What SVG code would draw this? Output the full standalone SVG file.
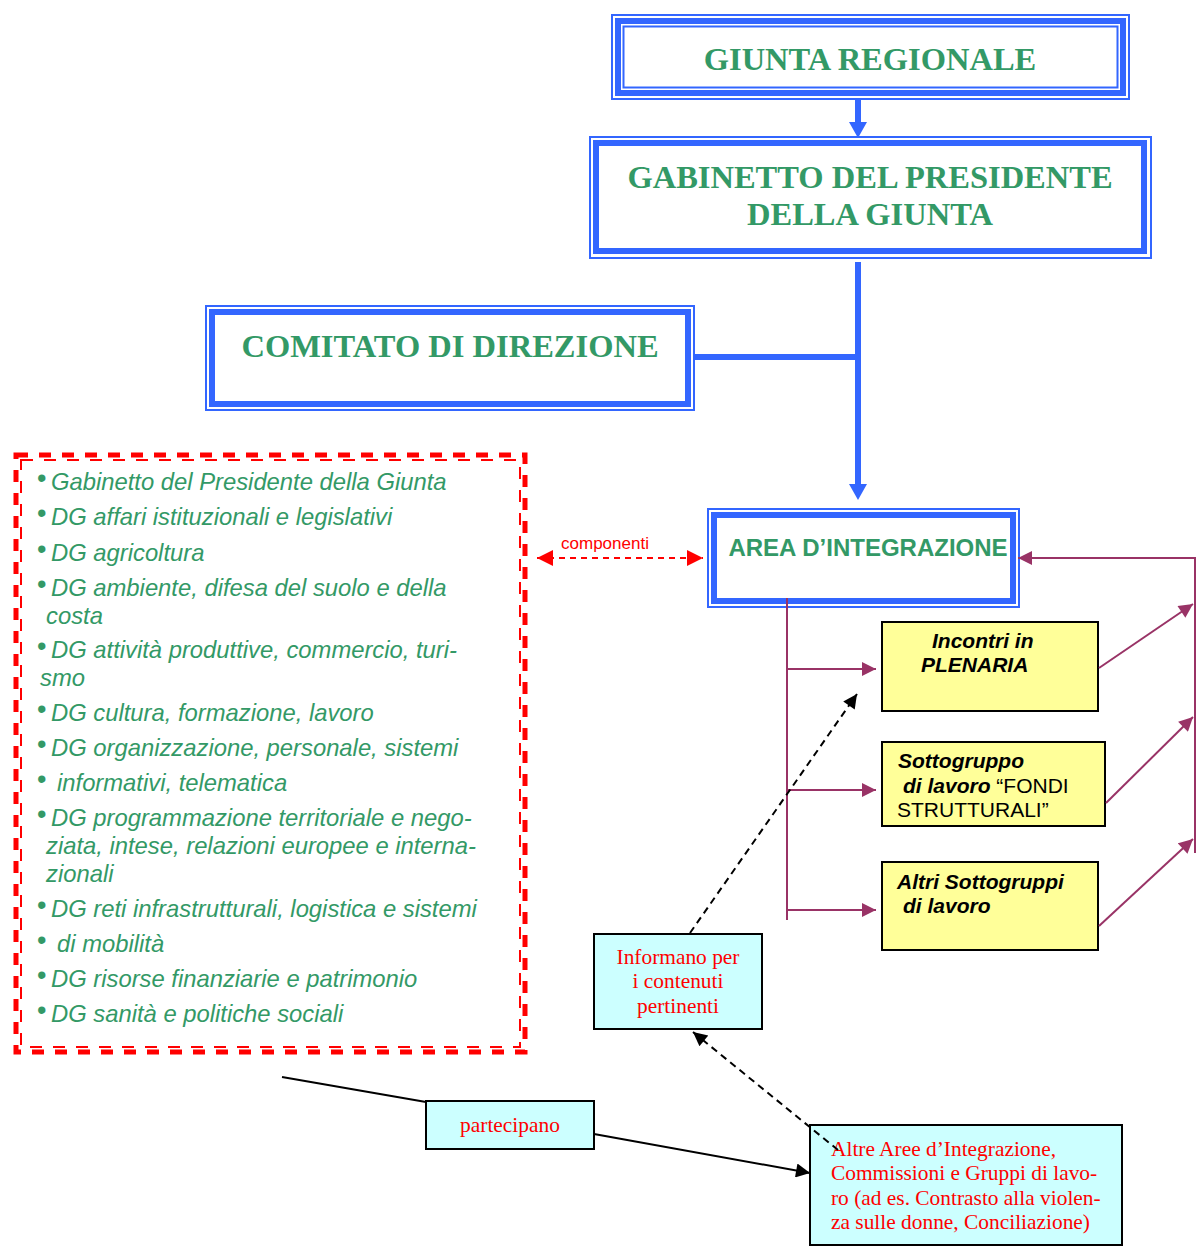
<svg xmlns="http://www.w3.org/2000/svg" width="1200" height="1247" viewBox="0 0 1200 1247">
<defs>
<style>
.thin{fill:none;stroke:#3366FF;stroke-width:2}
.thick{fill:none;stroke:#3366FF;stroke-width:6}
.ttl{font-family:"Liberation Serif",serif;font-weight:bold;font-size:32.5px;fill:#339966;text-anchor:middle}
.list{font-family:"Liberation Sans",Arial,sans-serif;font-style:italic;font-size:23.8px;fill:#339966}
.bul{font-family:"Liberation Sans",Arial,sans-serif;font-size:27px;fill:#339966}
.ylw{fill:#FFFF99;stroke:#000;stroke-width:2}
.cyan{fill:#CCFFFF;stroke:#000;stroke-width:2}
.yt{font-family:"Liberation Sans",Arial,sans-serif;font-size:21px;fill:#000}
.bi{font-weight:bold;font-style:italic}
.rt{font-family:"Liberation Serif",serif;font-size:21.4px;fill:#FF0000}
.pur{stroke:#993366;stroke-width:2;fill:none}
.blu{stroke:#3366FF;stroke-width:6;fill:none}
.red{stroke:#FF0000;fill:none}
</style>
<marker id="ap" viewBox="0 0 10 10" refX="10" refY="5" markerWidth="16" markerHeight="14" orient="auto" markerUnits="userSpaceOnUse"><path d="M0,0 L10,5 L0,10 z" fill="#993366"/></marker>
<marker id="ak" viewBox="0 0 10 10" refX="10" refY="5" markerWidth="16" markerHeight="14" orient="auto" markerUnits="userSpaceOnUse"><path d="M0,0 L10,5 L0,10 z" fill="#000"/></marker>
<marker id="ar" viewBox="0 0 10 10" refX="10" refY="5" markerWidth="16" markerHeight="16" orient="auto-start-reverse" markerUnits="userSpaceOnUse"><path d="M0,0 L10,5 L0,10 z" fill="#FF0000"/></marker>
</defs>

<g id="giunta">
  <rect class="thin" x="612" y="15" width="517" height="84"/>
  <rect class="thick" x="618" y="21" width="505" height="72"/>
  <rect class="thin" x="623.5" y="26.5" width="494" height="61" stroke-width="1.5"/>
  <text class="ttl" x="870" y="70">GIUNTA REGIONALE</text>
</g>

<g id="gabinetto">
  <rect class="thin" x="590" y="137" width="561" height="121"/>
  <rect class="thick" x="596" y="143" width="548" height="108" stroke-width="7"/>
  <text class="ttl" x="870" y="188">GABINETTO DEL PRESIDENTE</text>
  <text class="ttl" x="870" y="225">DELLA GIUNTA</text>
</g>

<g id="comitato">
  <rect class="thin" x="206" y="306" width="488" height="104"/>
  <rect class="thick" x="212" y="312" width="476" height="92" stroke-width="7"/>
  <text class="ttl" x="450" y="357">COMITATO DI DIREZIONE</text>
</g>

<g id="area">
  <rect class="thin" x="708" y="509" width="311" height="98"/>
  <rect class="thick" x="714" y="515" width="299" height="86" stroke-width="7"/>
  <text x="868" y="556" font-family="'Liberation Sans',Arial,sans-serif" font-weight="bold" font-size="24px" fill="#339966" text-anchor="middle">AREA D’INTEGRAZIONE</text>
</g>

<g id="componenti-label">
  <text x="605" y="549" font-family="'Liberation Sans',Arial,sans-serif" font-size="17px" fill="#FF0000" text-anchor="middle">componenti</text>
</g>

<g id="dg-list">
  <rect x="16" y="455" width="509" height="597" fill="none" stroke="#FF0000" stroke-width="5" stroke-dasharray="12,11"/>
  <rect x="21" y="460" width="499" height="587" fill="none" stroke="#FF0000" stroke-width="2" stroke-dasharray="12,11"/>
  <g class="bul">
    <text x="37" y="487">•</text>
    <text x="37" y="522">•</text>
    <text x="37" y="558">•</text>
    <text x="37" y="593">•</text>
    <text x="37" y="655">•</text>
    <text x="37" y="718">•</text>
    <text x="37" y="753">•</text>
    <text x="37" y="788">•</text>
    <text x="37" y="823">•</text>
    <text x="37" y="914">•</text>
    <text x="37" y="949">•</text>
    <text x="37" y="984">•</text>
    <text x="37" y="1019">•</text>
  </g>
  <g class="list">
    <text x="51" y="490">Gabinetto del Presidente della Giunta</text>
    <text x="51" y="525">DG affari istituzionali e legislativi</text>
    <text x="51" y="561">DG agricoltura</text>
    <text x="51" y="596">DG ambiente, difesa del suolo e della</text>
    <text x="46" y="624">costa</text>
    <text x="51" y="658">DG attività produttive, commercio, turi-</text>
    <text x="40" y="686">smo</text>
    <text x="51" y="721">DG cultura, formazione, lavoro</text>
    <text x="51" y="756">DG organizzazione, personale, sistemi</text>
    <text x="57" y="791">informativi, telematica</text>
    <text x="51" y="826">DG programmazione territoriale e nego-</text>
    <text x="46" y="854">ziata, intese, relazioni europee e interna-</text>
    <text x="46" y="882">zionali</text>
    <text x="51" y="917">DG reti infrastrutturali, logistica e sistemi</text>
    <text x="57" y="952">di mobilità</text>
    <text x="51" y="987">DG risorse finanziarie e patrimonio</text>
    <text x="51" y="1022">DG sanità e politiche sociali</text>
  </g>
</g>

<g id="incontri">
  <rect class="ylw" x="882" y="622" width="216" height="89"/>
  <text class="yt bi" x="932" y="648">Incontri in</text>
  <text class="yt bi" x="921" y="672">PLENARIA</text>
</g>

<g id="sottogruppo">
  <rect class="ylw" x="882" y="742" width="223" height="84"/>
  <text class="yt" x="898" y="768"><tspan class="bi">Sottogruppo</tspan></text>
  <text class="yt" x="903" y="793"><tspan class="bi">di lavoro</tspan> “FONDI</text>
  <text class="yt" x="897" y="817">STRUTTURALI”</text>
</g>

<g id="altri">
  <rect class="ylw" x="882" y="862" width="216" height="88"/>
  <text class="yt bi" x="897" y="889">Altri Sottogruppi</text>
  <text class="yt bi" x="903" y="913">di lavoro</text>
</g>

<g id="informano">
  <rect class="cyan" x="594" y="934" width="168" height="95"/>
  <text class="rt" x="678" y="964" text-anchor="middle">Informano per</text>
  <text class="rt" x="678" y="988" text-anchor="middle">i contenuti</text>
  <text class="rt" x="678" y="1013" text-anchor="middle">pertinenti</text>
</g>

<g id="partecipano">
  <rect class="cyan" x="426" y="1101" width="168" height="48"/>
  <text class="rt" x="510" y="1132" text-anchor="middle">partecipano</text>
</g>

<g id="altre-aree">
  <rect class="cyan" x="810" y="1125" width="312" height="120"/>
  <text class="rt" x="831" y="1156">Altre Aree d’Integrazione,</text>
  <text class="rt" x="831" y="1180">Commissioni e Gruppi di lavo-</text>
  <text class="rt" x="831" y="1205">ro (ad es. Contrasto alla violen-</text>
  <text class="rt" x="831" y="1229">za sulle donne, Conciliazione)</text>
</g>

<g id="connectors">
  <line class="blu" x1="858" y1="100" x2="858" y2="124" stroke-width="5"/>
  <path d="M849,122 L867,122 L858,138 z" fill="#3366FF"/>
  <line class="blu" x1="858" y1="262" x2="858" y2="486"/>
  <path d="M849,484 L867,484 L858,500 z" fill="#3366FF"/>
  <line class="blu" x1="695" y1="357" x2="858" y2="357"/>
  <line class="red" stroke-width="2" stroke-dasharray="6,5" x1="537" y1="558" x2="703" y2="558" marker-start="url(#ar)" marker-end="url(#ar)"/>
  <line class="pur" x1="787" y1="598" x2="787" y2="920"/>
  <line class="pur" x1="787" y1="669" x2="876" y2="669" marker-end="url(#ap)"/>
  <line class="pur" x1="787" y1="790" x2="876" y2="790" marker-end="url(#ap)"/>
  <line class="pur" x1="787" y1="910" x2="876" y2="910" marker-end="url(#ap)"/>
  <line class="pur" x1="1099" y1="668" x2="1193" y2="604" marker-end="url(#ap)"/>
  <line class="pur" x1="1106" y1="803" x2="1193" y2="717" marker-end="url(#ap)"/>
  <line class="pur" x1="1099" y1="926" x2="1193" y2="839" marker-end="url(#ap)"/>
  <polyline class="pur" points="1195,853 1195,558 1018,558" marker-end="url(#ap)"/>
  <line stroke="#000" stroke-width="2" stroke-dasharray="7,5" x1="690" y1="933" x2="857" y2="694" marker-end="url(#ak)"/>
  <line stroke="#000" stroke-width="2" stroke-dasharray="7,5" x1="838" y1="1150" x2="693" y2="1032" marker-end="url(#ak)"/>
  <line stroke="#000" stroke-width="2" x1="282" y1="1077" x2="426" y2="1102"/>
  <line stroke="#000" stroke-width="2" x1="594" y1="1134" x2="810" y2="1173" marker-end="url(#ak)"/>
</g>
</svg>
